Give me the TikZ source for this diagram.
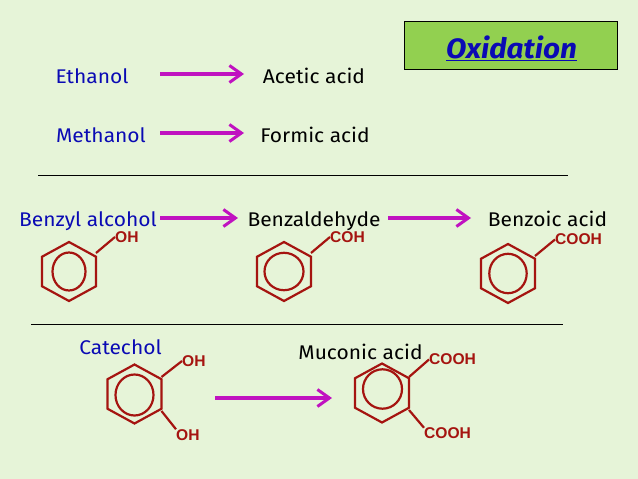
\documentclass[tikz,border=0pt]{standalone}
\usepackage{fontspec}
\setmainfont[FakeStretch=1.06]{Fira Sans}
\newfontfamily\labelfont{Liberation Sans}
\usetikzlibrary{arrows.meta,shapes.geometric}
\definecolor{bgc}{HTML}{E6F4D8}
\definecolor{boxc}{HTML}{92D050}
\definecolor{arrowc}{HTML}{C012C0}
\definecolor{bondc}{HTML}{A51410}
\definecolor{namec}{HTML}{0A0AB4}
\tikzset{
  namelbl/.style={inner sep=0pt,font=\fontsize{19.8}{21}\selectfont,text=namec,anchor=base},
  prodlbl/.style={namelbl,text=black},
  sublbl/.style={inner sep=0pt,font=\labelfont\bfseries\fontsize{15.6}{17}\selectfont,text=bondc},
  rxnarrow/.style={line width=3.5pt,draw=arrowc,-{Straight Barb[length=12pt,width=17pt,line width=3pt]}},
  ringhex/.style={regular polygon,regular polygon sides=6,regular polygon rotate=30,minimum size=59pt,inner sep=0pt,outer sep=0pt,draw=bondc,line width=2.2pt,transform shape,xscale=1.057},
  bondline/.style={draw=bondc,line width=2.2pt},
  innerring/.style={draw=bondc,line width=2.2pt},
  rulerline/.style={draw=black,line width=0.7pt}
}
\begin{document}
\begin{tikzpicture}[x=1pt,y=-1pt]
\useasboundingbox (0,0) rectangle (638,479);
\fill[bgc] (0,0) rectangle (638,479);
\node[draw=black,line width=1pt,fill=boxc,minimum width=213pt,minimum height=48pt,inner sep=0pt] (titlebox) at (510.5,45) {};
\node[inner sep=0pt,font=\fontsize{28}{30}\bfseries\itshape\selectfont,text=namec] (title) at (511.5,48) {\underline{Oxidation}};
\node[namelbl] (ethanol) at (92,83.5) {Ethanol};
\node[prodlbl] (acetic) at (314,83.5) {Acetic acid};
\node[namelbl] (methanol) at (101,142.5) {Methanol};
\node[prodlbl] (formic) at (315,142.5) {Formic acid};
\node[namelbl] (benzyl) at (88,226) {Benzyl alcohol};
\node[prodlbl] (benzald) at (314,226) {Benzaldehyde};
\node[prodlbl] (benzoic) at (547.5,226) {Benzoic acid};
\node[namelbl] (catechol) at (120.5,354) {Catechol};
\node[prodlbl] (muconic) at (360.5,359) {Muconic acid};
\draw[rxnarrow] ([shift={(68,-9.5)}]ethanol.base) -- ([shift={(-70,-9.5)}]acetic.base);
\draw[rxnarrow] ([shift={(59,-9.5)}]methanol.base) -- ([shift={(-71,-9.5)}]formic.base);
\draw[rxnarrow] ([shift={(72,-8)}]benzyl.base) -- ([shift={(-76,-8)}]benzald.base);
\draw[rxnarrow] ([shift={(74,-8)}]benzald.base) -- ([shift={(-76.5,-8)}]benzoic.base);
\draw[rulerline] (38,175) -- (568,175);
\draw[rulerline] (31,324) -- (563,324);
% rings
\node[ringhex] (r1) at (69,271.5) {};
\draw[innerring] (69,271.5) ellipse [x radius=16.5,y radius=19];
\node[sublbl,anchor=west] (oh1) at (115,237) {OH};
\draw[bondline] ([shift={(27,-18.5)}]r1.center) -- (oh1.west);
\node[ringhex] (r2) at (284,271.5) {};
\draw[innerring] (284,271.5) ellipse [x radius=19.5,y radius=18.7];
\node[sublbl,anchor=west] (coh) at (330,237) {COH};
\draw[bondline] ([shift={(27,-18.5)}]r2.center) -- (coh.west);
\node[ringhex] (r3) at (508,273.5) {};
\draw[innerring] (508,273.5) ellipse [x radius=18.7,y radius=19.7];
\node[sublbl,anchor=west] (cooh1) at (555,239.5) {COOH};
\draw[bondline] ([shift={(27,-17.5)}]r3.center) -- (cooh1.west);
\node[ringhex] (r4) at (134.5,394) {};
\draw[innerring] (134.5,395) ellipse [x radius=19,y radius=20.5];
\node[sublbl,anchor=west] (oh2) at (182,361) {OH};
\node[sublbl,anchor=west] (oh3) at (176,435) {OH};
\draw[bondline] ([shift={(27,-17)}]r4.center) -- (oh2.west);
\draw[bondline] ([shift={(27,17)}]r4.center) -- (oh3.north west);
\node[ringhex] (r5) at (382,393) {};
\draw[innerring] (382.5,389) ellipse [x radius=19.5,y radius=19.7];
\node[sublbl,anchor=west] (cooh2) at (429,359.5) {COOH};
\node[sublbl,anchor=west] (cooh3) at (424,433.5) {COOH};
\draw[bondline] ([shift={(27,-16)}]r5.center) -- (cooh2.west);
\draw[bondline] ([shift={(27,17)}]r5.center) -- (cooh3.north west);
\draw[rxnarrow] ([shift={(80.5,4)}]r4.center) -- ([shift={(-50,5)}]r5.center);
\end{tikzpicture}
\end{document}
